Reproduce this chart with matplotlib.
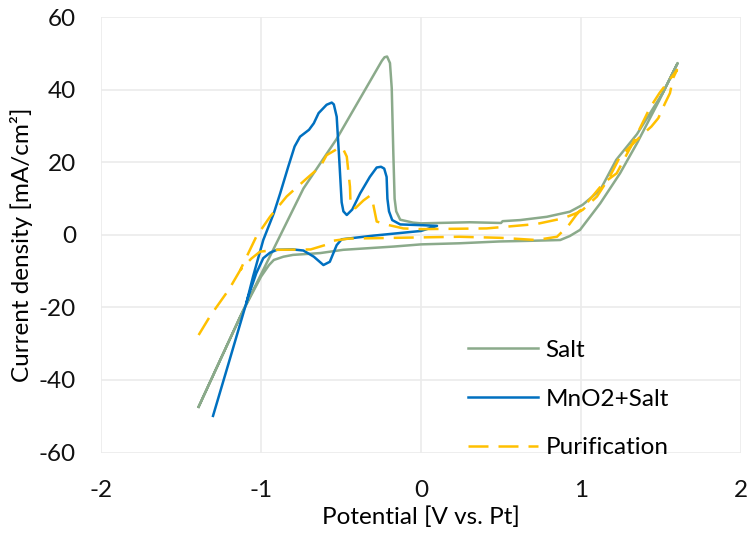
import matplotlib
matplotlib.use("Agg")
import matplotlib.pyplot as plt

plt.rcParams['font.family'] = ['Lato', 'DejaVu Sans']
plt.rcParams['axes.unicode_minus'] = False

# ---- data ----
salt_x = [-1.39, -1.25, -1.11, -1.0, -0.95, -0.92, -0.86, -0.8, -0.63, -0.486, -0.17, 0.0, 0.24,
          0.49, 0.7, 0.87, 0.93, 0.994, 1.12, 1.244, 1.35, 1.49, 1.604,
          1.51, 1.35, 1.22, 1.12, 1.01, 0.93, 0.786, 0.62, 0.51, 0.5, 0.306, 0.0,
          -0.05, -0.13, -0.155, -0.165, -0.173, -0.183, -0.194, -0.212, -0.228, -0.245,
          -0.527, -0.735, -1.13, -1.39]
salt_y = [-47.4, -34.0, -20.7, -11.5, -8.3, -6.9, -6.0, -5.5, -5.0, -4.1, -3.2, -2.6, -2.3,
          -1.8, -1.6, -1.4, -0.3, 1.4, 8.7, 17.0, 25.3, 37.2, 47.4,
          39.1, 27.8, 20.7, 12.4, 8.3, 6.4, 5.0, 4.1, 3.8, 3.3, 3.5, 3.2,
          3.4, 4.2, 6.5, 10.0, 22.5, 40.5, 47.4, 49.2, 49.0, 48.0,
          26.5, 12.8, -22.5, -47.4]

mno2_x = [-1.30, -1.2, -1.08, -1.03, -0.986, -0.944, -0.90, -0.80, -0.735, -0.67, -0.61, -0.57,
          -0.527, -0.496, -0.3, 0.0, 0.1,
          0.0, -0.13, -0.18, -0.2, -0.21, -0.215, -0.23, -0.25, -0.277, -0.32, -0.38, -0.43,
          -0.464, -0.485, -0.496, -0.51, -0.527, -0.545, -0.558, -0.59, -0.64, -0.67, -0.70,
          -0.756, -0.79, -0.83, -0.88, -0.92, -0.986, -1.05, -1.09]
mno2_y = [-49.9, -35.0, -17.0, -10.6, -6.4, -4.9, -4.1, -4.0, -4.3, -6.0, -8.3, -7.4,
          -2.8, -1.2, -0.2, 1.1, 2.5,
          2.7, 2.9, 4.1, 6.5, 10.0, 16.0, 18.3, 18.8, 18.6, 16.0, 11.5, 7.0,
          5.5, 6.5, 9.0, 20.0, 32.6, 36.0, 36.5, 35.9, 33.6, 30.8, 29.0,
          27.1, 24.4, 18.8, 11.5, 6.0, -1.4, -11.5, -18.5]

pur_x = [-1.39, -1.32, -1.2, -1.13, -1.06, -1.006, -0.9, -0.69, -0.6, -0.55, -0.45, -0.3, 0.24,
         0.5, 0.72, 0.85, 0.92, 0.97, 1.035, 1.14, 1.223, 1.317, 1.43, 1.49, 1.6,
         1.575, 1.556, 1.525, 1.483, 1.44, 1.37, 1.317, 1.244, 1.18, 1.1, 1.01, 0.97,
         0.89, 0.72, 0.41, 0.0, -0.11, -0.21, -0.277, -0.3, -0.32, -0.36, -0.41, -0.44,
         -0.444, -0.464, -0.49, -0.517, -0.59, -0.63, -0.714, -0.84, -0.944, -1.03, -1.13]
pur_y = [-27.6, -22.5, -15.0, -9.7, -6.5, -4.6, -4.1, -4.0, -2.8, -1.6, -1.0, -0.9, -0.5,
         -0.8, -1.4, -0.5, 2.5, 5.5, 8.7, 14.3, 17.0, 24.8, 35.0, 39.1, 45.5,
         43.2, 39.1, 36.3, 32.2, 29.9, 27.1, 24.8, 21.6, 16.1, 10.6, 6.9, 6.0,
         4.6, 3.0, 1.8, 1.6, 1.8, 2.8, 3.7, 8.7, 10.8, 9.5, 7.4, 8.0,
         13.3, 21.6, 24.0, 23.9, 22.0, 18.8, 15.6, 10.6, 5.0, -0.5, -9.7]

series_labels = ["Salt", "MnO2+Salt", "Purification"]
x_ticks = [-2, -1, 0, 1, 2]
y_ticks = [-60, -40, -20, 0, 20, 40, 60]

FS = 17.5

# ---- figure ----
fig = plt.figure(figsize=(7.5, 5.46), dpi=100)
ax = fig.add_axes([0.1347, 0.1712, 0.8533, 0.797])

ax.plot(salt_x, salt_y, color='#8BAA8B', lw=1.8, label=series_labels[0], zorder=3)
ax.plot(mno2_x, mno2_y, color='#0070C0', lw=1.8, label=series_labels[1], zorder=4)
ax.plot(pur_x, pur_y, color='#FFC000', lw=1.8, dashes=(8, 4), label=series_labels[2], zorder=5)

ax.set_xlim(-2, 2)
ax.set_ylim(-60, 60)
ax.set_xticks(x_ticks)
ax.set_yticks(y_ticks)
ax.grid(True, color='#EBEBEB', lw=1.2, zorder=0)
ax.set_axisbelow(True)
for s in ax.spines.values():
    s.set_visible(False)
ax.tick_params(length=0, labelsize=FS, colors='#111111')
ax.tick_params(axis='y', pad=18)
ax.tick_params(axis='x', pad=20)

ax.set_xlabel("Potential [V vs. Pt]", fontsize=FS, labelpad=4)
ax.set_ylabel("Current density [mA/cm²]", fontsize=FS)
ax.yaxis.set_label_coords(-0.106, 0.478)

leg = ax.legend(loc='lower left', bbox_to_anchor=(0.558, -0.036), frameon=False, fontsize=FS,
                handlelength=2.9, handletextpad=0.3, labelspacing=1.15, borderaxespad=0.0)

fig.savefig("out.png", dpi=100)
